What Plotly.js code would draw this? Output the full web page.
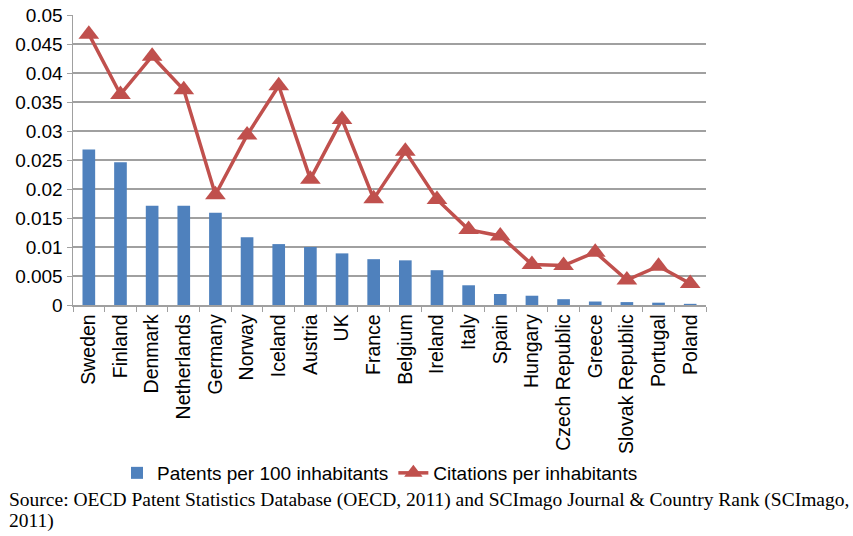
<!DOCTYPE html>
<html>
<head>
<meta charset="utf-8">
<script src="https://cdn.plot.ly/plotly-3.0.1.min.js"></script>
<style>html,body{margin:0;padding:0;background:#fff;}#chart{width:853px;height:536px;}</style>
</head>
<body>
<div id="chart"></div>
<script>
const countries = ["Sweden","Finland","Denmark","Netherlands","Germany","Norway","Iceland","Austria","UK","France","Belgium","Ireland","Italy","Spain","Hungary","Czech Republic","Greece","Slovak Republic","Portugal","Poland"];
const patentsPer100 = [0.0268,0.0246,0.0171,0.0171,0.0159,0.0117,0.0105,0.0100,0.0089,0.0079,0.0077,0.0060,0.0034,0.0019,0.0016,0.0010,0.0006,0.0005,0.0004,0.0002];
const citationsPerInhabitant = [0.0467,0.0363,0.0429,0.0371,0.0190,0.0293,0.0378,0.0217,0.0320,0.0183,0.0265,0.0182,0.0130,0.0119,0.0070,0.0068,0.0091,0.0043,0.0067,0.0037];
const yTicks = [0,0.005,0.01,0.015,0.02,0.025,0.03,0.035,0.04,0.045,0.05];
const yTickLabels = ["0","0.005","0.01","0.015","0.02","0.025","0.03","0.035","0.04","0.045","0.05"];
const sourceLine1 = "Source: OECD Patent Statistics Database (OECD, 2011) and SCImago Journal &amp; Country Rank (SCImago,";
const sourceLine2 = "2011)";

const sans = "Liberation Sans, Arial, sans-serif";
const serif = "Liberation Serif, Times New Roman, serif";
const W = 633, H = 290, L = 73, T = 15;
const px = v => (v - L) / W;
const py = v => (T + H - v) / H;

const data = [
  {type:"bar", name:"Patents per 100 inhabitants", x:countries, y:patentsPer100,
   marker:{color:"#4f81bd", line:{width:0}}, width:0.4},
  {type:"scatter", mode:"lines+markers", name:"Citations per inhabitants", x:countries, y:citationsPerInhabitant,
   line:{color:"#c0504d", width:3.5}, marker:{symbol:"triangle-up", size:18, color:"#c0504d"}}
];
const layout = {
  width:853, height:536,
  margin:{l:L, r:853-L-W, t:T, b:536-T-H},
  paper_bgcolor:"#fff", plot_bgcolor:"#fff",
  font:{family:sans, size:19, color:"#000"},
  showlegend:true,
  legend:{orientation:"h", x:px(117), xanchor:"left", y:py(473), yanchor:"middle",
    font:{family:sans, size:19, color:"#000"}, itemwidth:30, tracegroupgap:0, bgcolor:"rgba(0,0,0,0)"},
  xaxis:{type:"category", range:[-0.5,19.5], tickangle:-90, showline:true, linecolor:"#a0a0a0", linewidth:1.5,
    ticks:"outside", ticklen:5, tickcolor:"#a0a0a0", tickson:"boundaries", showgrid:false,
    tickfont:{family:sans, size:19.5, color:"#000"}, automargin:false},
  yaxis:{range:[0,0.05], tickvals:yTicks, ticktext:yTickLabels, showgrid:true, gridcolor:"#a0a0a0", gridwidth:1.5,
    showline:true, linecolor:"#a0a0a0", linewidth:1.5, ticks:"outside", ticklen:5, tickcolor:"#a0a0a0",
    zeroline:false, tickfont:{family:sans, size:19, color:"#000"}, automargin:false},
  annotations:[
    {xref:"paper", yref:"paper", x:px(7), y:py(500), xanchor:"left", yanchor:"middle", align:"left", showarrow:false,
     text:sourceLine1, font:{family:serif, size:19.5, color:"#000"}},
    {xref:"paper", yref:"paper", x:px(7), y:py(521), xanchor:"left", yanchor:"middle", align:"left", showarrow:false,
     text:sourceLine2, font:{family:serif, size:19.5, color:"#000"}}
  ]
};
Plotly.newPlot("chart", data, layout, {displayModeBar:false, staticPlot:true});
</script>
</body>
</html>
